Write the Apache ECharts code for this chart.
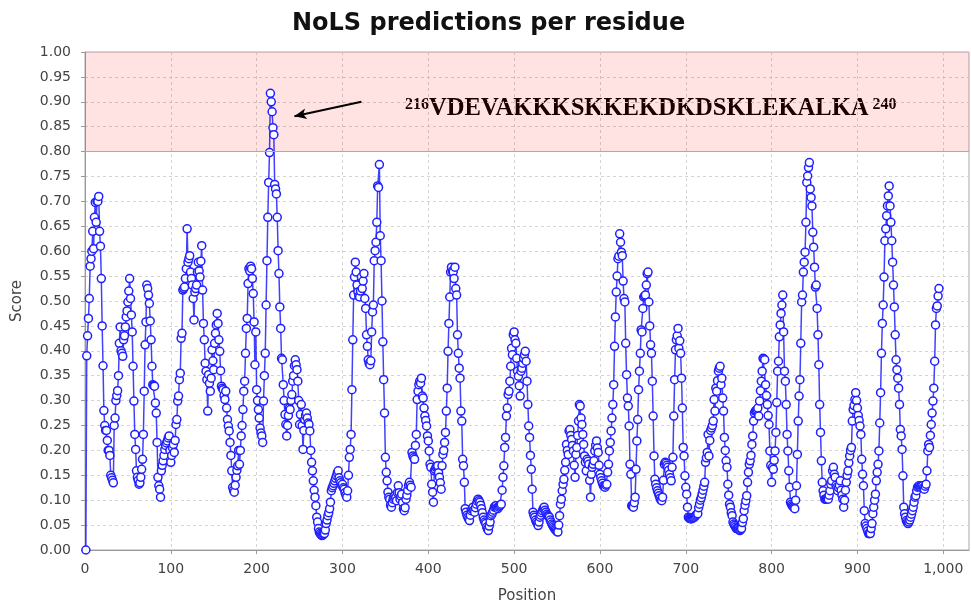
<!DOCTYPE html>
<html>
<head>
<meta charset="utf-8">
<title>NoLS predictions per residue</title>
<script src="https://cdn.jsdelivr.net/npm/echarts@6/dist/echarts.min.js"></script>
<style>
  html, body { margin: 0; padding: 0; background: #fff; }
  #chart { width: 971px; height: 609px; }
</style>
</head>
<body>
<div id="chart"></div>
<script>
// NoLS score per residue, residue 1 .. 995
const scores = [
  0.00, 0.39, 0.43, 0.465, 0.505, 0.57, 0.585, 0.60, 0.64, 0.605,
  0.668, 0.698, 0.658, 0.70, 0.70, 0.71, 0.64, 0.61, 0.545, 0.45,
  0.37, 0.28, 0.25, 0.24, 0.24, 0.22, 0.20, 0.20, 0.19, 0.15,
  0.145, 0.14, 0.135, 0.25, 0.265, 0.30, 0.31, 0.32, 0.35, 0.415,
  0.448, 0.40, 0.395, 0.389, 0.422, 0.43, 0.448, 0.468, 0.48, 0.498,
  0.52, 0.545, 0.505, 0.472, 0.438, 0.369, 0.299, 0.232, 0.202, 0.159,
  0.146, 0.14, 0.132, 0.135, 0.146, 0.162, 0.182, 0.232, 0.319, 0.412,
  0.458, 0.532, 0.525, 0.512, 0.495, 0.46, 0.422, 0.369, 0.332, 0.33,
  0.329, 0.295, 0.275, 0.216, 0.146, 0.129, 0.122, 0.106, 0.159, 0.17,
  0.179, 0.19, 0.202, 0.21, 0.215, 0.219, 0.225, 0.229, 0.20, 0.176,
  0.19, 0.205, 0.212, 0.196, 0.22, 0.252, 0.262, 0.299, 0.309, 0.342,
  0.355, 0.425, 0.435, 0.522, 0.525, 0.528, 0.545, 0.565, 0.645, 0.578,
  0.585, 0.591, 0.558, 0.545, 0.532, 0.505, 0.462, 0.518, 0.525, 0.532,
  0.558, 0.578, 0.56, 0.548, 0.58, 0.611, 0.522, 0.455, 0.422, 0.375,
  0.359, 0.342, 0.279, 0.352, 0.335, 0.319, 0.345, 0.402, 0.38, 0.362,
  0.415, 0.435, 0.452, 0.475, 0.455, 0.422, 0.399, 0.36, 0.329, 0.325,
  0.322, 0.31, 0.302, 0.319, 0.285, 0.262, 0.249, 0.239, 0.216, 0.19,
  0.159, 0.126, 0.12, 0.116, 0.13, 0.146, 0.16, 0.169, 0.20, 0.172,
  0.20, 0.229, 0.25, 0.282, 0.319, 0.339, 0.395, 0.445, 0.465, 0.535,
  0.565, 0.56, 0.57, 0.565, 0.545, 0.515, 0.458, 0.372, 0.438, 0.322,
  0.30, 0.282, 0.265, 0.245, 0.235, 0.229, 0.216, 0.299, 0.35, 0.395,
  0.492, 0.581, 0.668, 0.738, 0.798, 0.917, 0.90, 0.88, 0.848, 0.834,
  0.734, 0.725, 0.715, 0.668, 0.601, 0.555, 0.488, 0.445, 0.385, 0.382,
  0.332, 0.30, 0.272, 0.252, 0.229, 0.25, 0.27, 0.285, 0.282, 0.30,
  0.312, 0.339, 0.35, 0.37, 0.382, 0.372, 0.362, 0.339, 0.30, 0.252,
  0.272, 0.292, 0.25, 0.202, 0.24, 0.262, 0.27, 0.275, 0.265, 0.255,
  0.252, 0.239, 0.20, 0.176, 0.159, 0.139, 0.12, 0.106, 0.089, 0.066,
  0.056, 0.043, 0.036, 0.033, 0.031, 0.029, 0.03, 0.032, 0.033, 0.04,
  0.053, 0.06, 0.069, 0.075, 0.083, 0.096, 0.119, 0.125, 0.129, 0.134,
  0.139, 0.144, 0.149, 0.155, 0.159, 0.145, 0.139, 0.135, 0.13, 0.132,
  0.125, 0.122, 0.115, 0.11, 0.106, 0.119, 0.15, 0.186, 0.202, 0.232,
  0.322, 0.422, 0.512, 0.548, 0.578, 0.558, 0.532, 0.518, 0.51, 0.508,
  0.52, 0.548, 0.525, 0.54, 0.555, 0.505, 0.485, 0.432, 0.409, 0.382,
  0.375, 0.372, 0.38, 0.438, 0.478, 0.492, 0.581, 0.601, 0.618, 0.658,
  0.731, 0.728, 0.774, 0.631, 0.581, 0.50, 0.418, 0.342, 0.275, 0.186,
  0.156, 0.139, 0.116, 0.106, 0.102, 0.09, 0.086, 0.095, 0.102, 0.105,
  0.109, 0.105, 0.099, 0.115, 0.129, 0.115, 0.102, 0.108, 0.112, 0.095,
  0.083, 0.079, 0.085, 0.102, 0.11, 0.12, 0.13, 0.136, 0.13, 0.126,
  0.196, 0.189, 0.185, 0.182, 0.21, 0.232, 0.302, 0.319, 0.332, 0.339,
  0.335, 0.345, 0.309, 0.305, 0.285, 0.269, 0.26, 0.249, 0.229, 0.219,
  0.199, 0.172, 0.166, 0.132, 0.116, 0.096, 0.159, 0.162, 0.166, 0.168,
  0.169, 0.155, 0.146, 0.135, 0.122, 0.169, 0.192, 0.20, 0.216, 0.236,
  0.279, 0.325, 0.399, 0.455, 0.508, 0.558, 0.568, 0.56, 0.558, 0.545,
  0.568, 0.525, 0.512, 0.432, 0.395, 0.365, 0.345, 0.279, 0.259, 0.182,
  0.169, 0.136, 0.083, 0.076, 0.07, 0.066, 0.062, 0.059, 0.07, 0.079,
  0.082, 0.086, 0.08, 0.076, 0.085, 0.092, 0.098, 0.102, 0.099, 0.096,
  0.09, 0.083, 0.075, 0.066, 0.06, 0.056, 0.053, 0.046, 0.042, 0.039,
  0.048, 0.056, 0.069, 0.072, 0.076, 0.08, 0.086, 0.088, 0.089, 0.085,
  0.083, 0.086, 0.088, 0.09, 0.092, 0.12, 0.146, 0.169, 0.206, 0.226,
  0.269, 0.285, 0.312, 0.319, 0.339, 0.369, 0.405, 0.392, 0.432, 0.438,
  0.422, 0.415, 0.385, 0.359, 0.349, 0.33, 0.309, 0.359, 0.365, 0.375,
  0.385, 0.392, 0.399, 0.379, 0.339, 0.292, 0.249, 0.226, 0.19, 0.162,
  0.122, 0.076, 0.07, 0.066, 0.06, 0.056, 0.053, 0.049, 0.056, 0.066,
  0.07, 0.075, 0.079, 0.083, 0.086, 0.08, 0.076, 0.072, 0.069, 0.068,
  0.066, 0.06, 0.056, 0.052, 0.049, 0.046, 0.043, 0.041, 0.039, 0.037,
  0.036, 0.05, 0.069, 0.092, 0.102, 0.119, 0.132, 0.142, 0.16, 0.176,
  0.212, 0.20, 0.192, 0.239, 0.242, 0.23, 0.222, 0.21, 0.199, 0.17,
  0.146, 0.192, 0.206, 0.23, 0.259, 0.292, 0.289, 0.265, 0.252, 0.232,
  0.212, 0.189, 0.176, 0.159, 0.182, 0.178, 0.172, 0.14, 0.106, 0.152,
  0.166, 0.172, 0.179, 0.199, 0.21, 0.219, 0.205, 0.196, 0.17, 0.152,
  0.145, 0.139, 0.134, 0.129, 0.127, 0.126, 0.13, 0.132, 0.156, 0.172,
  0.199, 0.216, 0.239, 0.265, 0.292, 0.332, 0.409, 0.468, 0.518, 0.55,
  0.585, 0.59, 0.635, 0.618, 0.598, 0.591, 0.54, 0.505, 0.498, 0.415,
  0.352, 0.305, 0.289, 0.249, 0.172, 0.152, 0.089, 0.087, 0.086, 0.095,
  0.106, 0.162, 0.219, 0.262, 0.322, 0.359, 0.395, 0.442, 0.438, 0.485,
  0.508, 0.51, 0.512, 0.532, 0.555, 0.558, 0.498, 0.45, 0.412, 0.395,
  0.339, 0.269, 0.189, 0.142, 0.132, 0.125, 0.119, 0.114, 0.109, 0.104,
  0.10, 0.099, 0.106, 0.14, 0.172, 0.176, 0.174, 0.17, 0.166, 0.16,
  0.152, 0.145, 0.139, 0.166, 0.186, 0.269, 0.342, 0.402, 0.422, 0.43,
  0.445, 0.405, 0.42, 0.395, 0.345, 0.285, 0.206, 0.189, 0.149, 0.126,
  0.112, 0.086, 0.066, 0.064, 0.063, 0.063, 0.063, 0.064, 0.065, 0.066,
  0.068, 0.07, 0.072, 0.073, 0.085, 0.092, 0.10, 0.105, 0.112, 0.12,
  0.128, 0.136, 0.176, 0.185, 0.196, 0.232, 0.189, 0.22, 0.24, 0.245,
  0.25, 0.259, 0.302, 0.279, 0.325, 0.319, 0.34, 0.359, 0.365, 0.369,
  0.332, 0.345, 0.305, 0.279, 0.226, 0.20, 0.179, 0.166, 0.132, 0.11,
  0.092, 0.086, 0.075, 0.069, 0.056, 0.052, 0.049, 0.046, 0.043, 0.043,
  0.043, 0.041, 0.039, 0.041, 0.043, 0.055, 0.063, 0.079, 0.09, 0.099,
  0.109, 0.136, 0.156, 0.172, 0.179, 0.19, 0.212, 0.229, 0.259, 0.275,
  0.279, 0.28, 0.282, 0.285, 0.269, 0.299, 0.32, 0.339, 0.359, 0.385,
  0.384, 0.382, 0.332, 0.31, 0.292, 0.27, 0.252, 0.199, 0.17, 0.136,
  0.166, 0.162, 0.18, 0.199, 0.236, 0.296, 0.359, 0.379, 0.428, 0.452,
  0.475, 0.492, 0.512, 0.438, 0.359, 0.339, 0.292, 0.232, 0.199, 0.159,
  0.126, 0.096, 0.092, 0.089, 0.087, 0.085, 0.083, 0.10, 0.129, 0.192,
  0.259, 0.309, 0.342, 0.415, 0.498, 0.512, 0.558, 0.578, 0.598, 0.658,
  0.738, 0.751, 0.768, 0.778, 0.725, 0.708, 0.691, 0.638, 0.608, 0.568,
  0.528, 0.532, 0.485, 0.432, 0.372, 0.292, 0.236, 0.179, 0.136, 0.119,
  0.11, 0.102, 0.102, 0.103, 0.103, 0.102, 0.11, 0.119, 0.132, 0.139,
  0.159, 0.166, 0.152, 0.146, 0.13, 0.126, 0.119, 0.125, 0.13, 0.139,
  0.12, 0.11, 0.102, 0.086, 0.10, 0.12, 0.136, 0.15, 0.159, 0.175,
  0.189, 0.20, 0.206, 0.259, 0.282, 0.29, 0.302, 0.316, 0.30, 0.285,
  0.27, 0.26, 0.249, 0.232, 0.182, 0.152, 0.129, 0.079, 0.053, 0.048,
  0.043, 0.038, 0.033, 0.033, 0.033, 0.043, 0.053, 0.073, 0.086, 0.10,
  0.112, 0.139, 0.156, 0.172, 0.199, 0.255, 0.316, 0.395, 0.455, 0.492,
  0.548, 0.621, 0.645, 0.671, 0.691, 0.711, 0.731, 0.691, 0.658, 0.621,
  0.578, 0.532, 0.488, 0.432, 0.382, 0.362, 0.345, 0.325, 0.292, 0.242,
  0.229, 0.202, 0.149, 0.086, 0.073, 0.066, 0.059, 0.056, 0.053, 0.056,
  0.06, 0.066, 0.072, 0.079, 0.086, 0.096, 0.106, 0.109, 0.119, 0.126,
  0.128, 0.129, 0.127, 0.126, 0.128, 0.129, 0.125, 0.122, 0.128, 0.132,
  0.159, 0.199, 0.212, 0.206, 0.23, 0.252, 0.275, 0.299, 0.325, 0.379,
  0.452, 0.485, 0.49, 0.51, 0.525
];
const firstResidue = 1;

// highlighted NoLS band
const bandRange = [0.80, 1.00];

// annotation: arrow tail / head (data coords) and sequence label
const arrowFrom = [322, 0.900];
const arrowTo = [244, 0.871];
const motifStart = '216';
const motifSeq = 'VDEVAKKKSKKEKDKDSKLEKALKA';
const motifEnd = '240';

const points = scores.map((s, i) => [firstResidue + i, s]);

const chart = echarts.init(document.getElementById('chart'));

const axisGrey = '#999';
const labelGrey = '#444';

const option = {
  animation: false,
  title: {
    text: 'NoLS predictions per residue',
    left: 287,
    top: 7,
    textStyle: {
      fontFamily: 'DejaVu Sans',
      fontSize: 24,
      fontWeight: 'bold',
      color: '#111'
    }
  },
  grid: {
    left: 85,
    right: 2,
    top: 52,
    bottom: 56,
    show: true,
    borderColor: '#aaa',
    borderWidth: 1,
    backgroundColor: '#fff'
  },
  xAxis: {
    type: 'value',
    min: 0,
    max: 1030,
    interval: 100,
    offset: 4,
    name: 'Position',
    nameLocation: 'middle',
    nameGap: 35,
    nameTextStyle: { fontFamily: 'DejaVu Sans', fontSize: 15, color: labelGrey },
    axisLine: { show: true, lineStyle: { color: axisGrey, width: 1 } },
    axisTick: { show: true, length: 4, lineStyle: { color: axisGrey } },
    axisLabel: {
      fontFamily: 'DejaVu Sans',
      fontSize: 14,
      color: labelGrey,
      margin: 8,
      showMaxLabel: false,
      formatter: v => (v % 100 === 0 ? v.toLocaleString('en-US') : '')
    },
    splitLine: { show: true, lineStyle: { color: '#d4d4d4', type: [3, 3] } }
  },
  yAxis: {
    type: 'value',
    min: 0,
    max: 1,
    interval: 0.05,
    offset: 6,
    name: 'Score',
    nameLocation: 'middle',
    nameRotate: 90,
    nameGap: 54,
    nameTextStyle: { fontFamily: 'DejaVu Sans', fontSize: 15, color: labelGrey },
    axisLine: { show: true, lineStyle: { color: axisGrey, width: 1 } },
    axisTick: { show: true, length: 4, lineStyle: { color: axisGrey } },
    axisLabel: {
      fontFamily: 'DejaVu Sans',
      fontSize: 14,
      color: labelGrey,
      margin: 8,
      formatter: v => v.toFixed(2)
    },
    splitLine: { show: true, lineStyle: { color: '#d4d4d4', type: [3, 3] } }
  },
  series: [
    {
      type: 'line',
      data: points,
      symbol: 'circle',
      symbolSize: 8,
      showAllSymbol: true,
      clip: true,
      lineStyle: { color: 'rgba(0, 0, 255, 0.75)', width: 1.5 },
      itemStyle: { color: '#fff', borderColor: '#1f1fff', borderWidth: 1.5 },
      emphasis: { disabled: true },
      markArea: {
        silent: true,
        itemStyle: { color: 'rgba(255, 0, 0, 0.11)' },
        data: [[{ yAxis: bandRange[0] }, { yAxis: bandRange[1] }]]
      },
      markLine: {
        silent: true,
        animation: false,
        symbol: ['none', 'none'],
        label: { show: false },
        data: [
          {
            yAxis: bandRange[0],
            lineStyle: { color: '#aaa', width: 1, type: 'solid' }
          },
          [
            { coord: arrowFrom, lineStyle: { color: '#000', width: 2, type: 'solid' } },
            { coord: arrowTo, symbol: 'arrow', symbolSize: [8, 12] }
          ]
        ]
      }
    }
  ],
  graphic: [
    {
      type: 'text',
      x: 405,
      y: 97,
      style: {
        text: '{sup|' + motifStart + '}{main|' + motifSeq + '}{sup| ' + motifEnd + '}',
        rich: {
          sup: {
            fontFamily: 'Liberation Serif',
            fontWeight: 'bold',
            fontSize: 16,
            lineHeight: 16,
            verticalAlign: 'top',
            fill: '#000',
            color: '#000'
          },
          main: {
            fontFamily: 'Liberation Serif',
            fontWeight: 'bold',
            fontSize: 24.6,
            lineHeight: 24,
            fill: '#000',
            color: '#000'
          }
        }
      }
    }
  ]
};

chart.setOption(option);
</script>
</body>
</html>
